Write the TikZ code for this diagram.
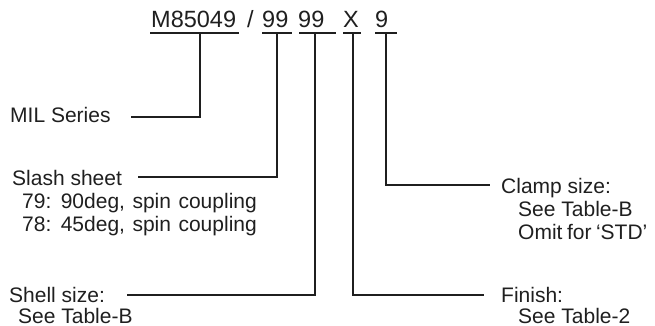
\documentclass[tikz,border=0pt]{standalone}
\usepackage{fontspec}
\setmainfont{Liberation Sans}
\begin{document}
\begin{tikzpicture}[x=1pt,y=-1pt,
  part/.style={inner sep=0pt,anchor=base west,font=\fontsize{23.5}{27}\selectfont,text=black!88},
  lbl/.style={inner sep=0pt,anchor=base west,font=\fontsize{21}{24}\selectfont,text=black!88},
  uline/.style={draw=black!88,line width=1.8pt},
  conn/.style={draw=black!88,line width=1.2pt}]
\useasboundingbox (0,0) rectangle (655,326);
% top code
\node[part] (code) at (151,28) {M85049};
\node[part] (slsh) at (247,28) {/};
\node[part] (pa) at (262,28) {99};
\node[part] (pb) at (298,28) {99};
\node[part] (pc) at (343,28) {X};
\node[part] (pd) at (375,28) {9};
% underlines
\path[uline] (150,33) -- (239,33);
\path[uline] (262,33) -- (292,33);
\path[uline] (299,33) -- (336,33);
\path[uline] (343,33) -- (361,33);
\path[uline] (375,33) -- (397,33);
\coordinate (u0) at (200,33);
\coordinate (u1) at (277,33);
\coordinate (u2) at (315,33);
\coordinate (u3) at (353,33);
\coordinate (u4) at (386,33);
% labels
\node[lbl] (mil) at (10,122) {MIL Series};
\node[lbl] (slash) at (12,185) {Slash sheet};
\node[lbl] (slash1) at (22,208) {\spaceskip=7.5pt\relax 79: 90deg, spin coupling};
\node[lbl] (slash2) at (22,231) {\spaceskip=7.5pt\relax 78: 45deg, spin coupling};
\node[lbl] (shell) at (9,302) {Shell size:};
\node[lbl] (shell1) at (18,323) {See Table-B};
\node[lbl] (clamp) at (501,193) {Clamp size:};
\node[lbl] (clamp1) at (518,216) {See Table-B};
\node[lbl] (clamp2) at (518,239) {\spaceskip=4.5pt\relax Omit for ‘STD’};
\node[lbl] (finish) at (501,302) {Finish:};
\node[lbl] (finish1) at (518,323) {See Table-2};
% connector ends
\coordinate (e0) at (131,117);
\coordinate (e1) at (138,177);
\coordinate (e2) at (127,295);
\coordinate (e3) at (484,295);
\coordinate (e4) at (490,185);
% connectors
\path[conn] (u0) |- (e0);
\path[conn] (u1) |- (e1);
\path[conn] (u2) |- (e2);
\path[conn] (u3) |- (e3);
\path[conn] (u4) |- (e4);
\end{tikzpicture}
\end{document}
